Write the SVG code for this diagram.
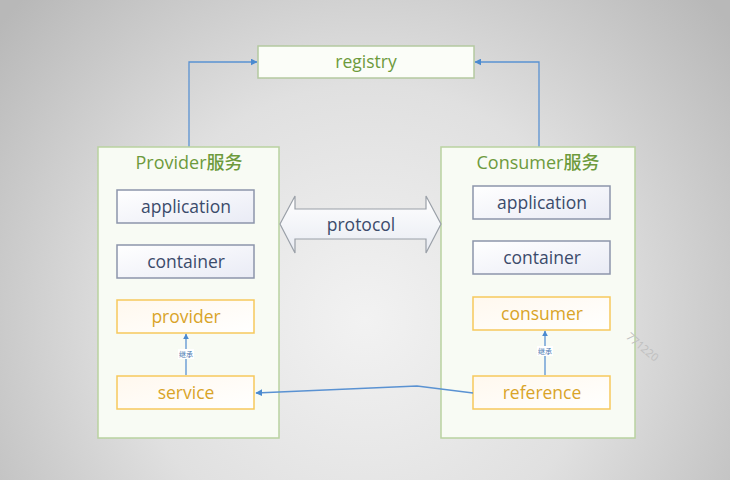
<svg xmlns="http://www.w3.org/2000/svg" width="730" height="480" viewBox="0 0 730 480">
<defs>
<radialGradient id="bg" cx="365" cy="320" r="470" gradientUnits="userSpaceOnUse">
<stop offset="0" stop-color="#f2f2f2"/>
<stop offset="0.5" stop-color="#e0e0e0"/>
<stop offset="1" stop-color="#b8b8b8"/>
</radialGradient>
<linearGradient id="blueFill" x1="0" y1="0" x2="1" y2="1">
<stop offset="0" stop-color="#ffffff"/>
<stop offset="1" stop-color="#e9ebf5"/>
</linearGradient>
<linearGradient id="orFill" x1="0" y1="0" x2="1" y2="1">
<stop offset="0" stop-color="#fff8ee"/>
<stop offset="1" stop-color="#ffffff"/>
</linearGradient>
<linearGradient id="protoFill" x1="0" y1="0" x2="0" y2="1">
<stop offset="0" stop-color="#ffffff"/>
<stop offset="1" stop-color="#e8ebf2"/>
</linearGradient>
<marker id="ah" viewBox="0 0 10 10" refX="9" refY="5" markerWidth="7" markerHeight="7" orient="auto" markerUnits="userSpaceOnUse">
<path d="M0,0 L10,5 L0,10 z" fill="#4a8ad0"/>
</marker>
<marker id="ahs" viewBox="0 0 10 10" refX="9" refY="5" markerWidth="6" markerHeight="6" orient="auto" markerUnits="userSpaceOnUse">
<path d="M0,0 L10,5 L0,10 z" fill="#4a8ad0"/>
</marker>
</defs>
<style>
.t{font-family:"Open Sans","Noto Sans","Noto Sans CJK SC",sans-serif;text-anchor:middle;dominant-baseline:central;font-weight:500}
.blue{fill:url(#blueFill);stroke:#8c95aa;stroke-width:1.5}
.or{fill:url(#orFill);stroke:#f6c95c;stroke-width:1.5}
.bt{fill:#3b4b6b;font-size:17.5px}
.ot{fill:#d9a428;font-size:17.5px}
.gt{fill:#6d9a3c;font-size:18px}
.rt{fill:#6d9a3c;font-size:17.5px}
.cont{fill:#f8fbf4;stroke:#b9d2a0;stroke-width:1.5}
.conn{fill:none;stroke:#5a92d2;stroke-width:1.3}
.small{fill:#4a78b0;font-size:7px;font-weight:400}
</style>
<rect x="0" y="0" width="730" height="480" fill="url(#bg)"/>

<g id="connectors">
<path class="conn" d="M189,147 V62 H257" marker-end="url(#ah)"/>
<path class="conn" d="M539,147 V62 H475" marker-end="url(#ah)"/>
</g>

<g id="registry">
<rect x="258" y="46" width="216" height="32" fill="#fbfdf8" stroke="#b4c9a0" stroke-width="1.5"/>
<text class="t rt" x="366" y="61">registry</text>
</g>

<g id="provider-service">
<rect class="cont" x="98" y="147" width="181" height="291"/>
<text class="t gt" x="189" y="162">Provider服务</text>
</g>

<g id="consumer-service">
<rect class="cont" x="441" y="147" width="194" height="291"/>
<text class="t gt" x="538" y="162">Consumer服务</text>
</g>

<g id="p-application">
<rect class="blue" x="117" y="190" width="137" height="33"/>
<text class="t bt" x="186" y="206">application</text>
</g>
<g id="p-container">
<rect class="blue" x="117" y="245" width="137" height="33"/>
<text class="t bt" x="186" y="261">container</text>
</g>
<g id="p-provider">
<rect class="or" x="117" y="300" width="137" height="33"/>
<text class="t ot" x="186" y="316">provider</text>
</g>
<g id="p-service">
<rect class="or" x="117" y="376" width="137" height="33"/>
<text class="t ot" x="186" y="392">service</text>
</g>

<g id="c-application">
<rect class="blue" x="473" y="186" width="137" height="33"/>
<text class="t bt" x="542" y="202">application</text>
</g>
<g id="c-container">
<rect class="blue" x="473" y="241" width="137" height="33"/>
<text class="t bt" x="542" y="257">container</text>
</g>
<g id="c-consumer">
<rect class="or" x="473" y="297" width="137" height="33"/>
<text class="t ot" x="542" y="313">consumer</text>
</g>
<g id="c-reference">
<rect class="or" x="473" y="376" width="137" height="33"/>
<text class="t ot" x="542" y="392">reference</text>
</g>

<g id="protocol">
<path d="M280,224 L295,196 V209 H426 V196 L441,224 L426,253 V239 H295 V253 Z" fill="url(#protoFill)" stroke="#9aa0a8" stroke-width="1.2"/>
<text class="t bt" x="361" y="224">protocol</text>
</g>

<g id="connectors-2">
<path class="conn" d="M186,375 V334" marker-end="url(#ahs)"/>
<rect x="178" y="349" width="16" height="10" fill="#ffffff"/>
<text class="t small" x="186" y="354">继承</text>
<path class="conn" d="M545,375 V331" marker-end="url(#ahs)"/>
<rect x="537" y="346" width="16" height="10" fill="#ffffff"/>
<text class="t small" x="545" y="351">继承</text>
<path class="conn" d="M473,393 L417,386 L256,393" marker-end="url(#ah)"/>
</g>

<text x="640" y="350" font-family="Open Sans, sans-serif" font-size="11" fill="#c0c0c0" text-anchor="middle" transform="rotate(40 640 350)">771220</text>
</svg>
